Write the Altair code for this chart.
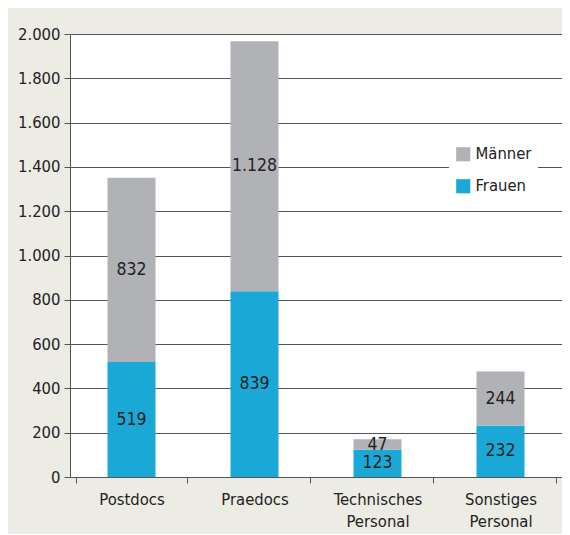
import altair as alt
import pandas as pd

categories = ["Postdocs", "Praedocs", "Technisches Personal", "Sonstiges Personal"]
frauen = [519, 839, 123, 232]
maenner = [832, 1128, 47, 244]
series = ["Männer", "Frauen"]
colors = ["#b1b2b6", "#1aa9d6"]

rows = []
for c, f, m in zip(categories, frauen, maenner):
    rows.append({"cat": c, "serie": "Frauen", "val": f, "order": 0,
                 "start": 0, "end": f})
    rows.append({"cat": c, "serie": "Männer", "val": m, "order": 1,
                 "start": f, "end": f + m})
df = pd.DataFrame(rows)
df["mid"] = (df["start"] + df["end"]) / 2
df["txt"] = df["val"].map(lambda v: f"{v:,}".replace(",", "."))

FONT = "'DejaVu Sans Condensed', Roboto, sans-serif"

base = alt.Chart(df)

bars = base.mark_bar(size=48).encode(
    x=alt.X("cat:N", sort=categories, title=None,
            axis=alt.Axis(labelAngle=0, labelExpr="split(datum.label, ' ')",
                          labelFontSize=16.5, labelFont=FONT, labelColor="#222",
                          labelPadding=8, tickSize=6, tickColor="#555",
                          domainColor="#555", tickBand="extent", labelLineHeight=22)),
    y=alt.Y("start:Q", title=None, scale=alt.Scale(domain=[0, 2000], nice=False),
            axis=alt.Axis(values=list(range(0, 2001, 200)),
                          labelExpr="replace(format(datum.value, ','), ',', '.')",
                          labelFontSize=16.5, labelFont=FONT, labelColor="#222",
                          tickSize=6, tickColor="#555", labelPadding=4,
                          domainColor="#555", gridColor="#555", gridWidth=1.2)),
    y2="end:Q",
    color=alt.Color("serie:N", scale=alt.Scale(domain=series, range=colors),
                    legend=alt.Legend(title=None, orient="none", legendX=379, legendY=106,
                                      symbolType="square", symbolSize=200,
                                      symbolStrokeWidth=0, labelFontSize=16.5,
                                      labelFont=FONT, labelColor="#222",
                                      rowPadding=15, fillColor="white",
                                      padding=6, symbolOpacity=1)),
)

labels = base.mark_text(fontSize=17.5, font=FONT, color="#222", baseline="middle").encode(
    x=alt.X("cat:N", sort=categories),
    y=alt.Y("mid:Q"),
    text="txt:N",
)

chart = (bars + labels).properties(
    width=492, height=443,
    background="#ecebe4",
    padding={"left": 62, "top": 26, "right": 0, "bottom": 57},
    autosize=alt.AutoSizeParams(type="none"),
).configure_view(strokeWidth=0, fill="white")

chart.save("out.html", embed_options={"renderer": "svg", "actions": False})
